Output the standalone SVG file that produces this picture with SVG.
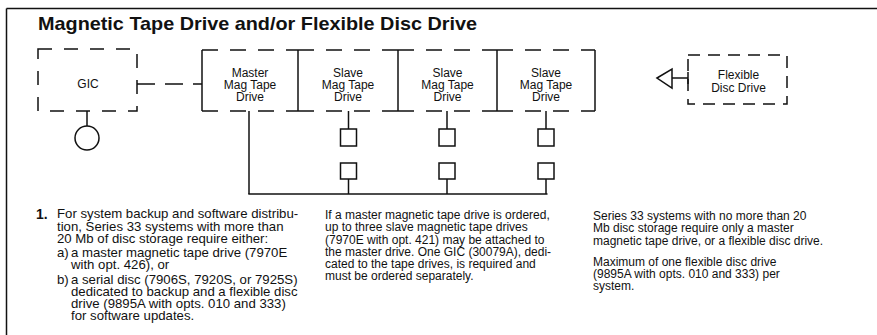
<svg xmlns="http://www.w3.org/2000/svg" width="877" height="335" viewBox="0 0 877 335">
<style>
.ln{stroke:#111;stroke-width:1.5;fill:none}
.dt{stroke:#111;stroke-width:1.5;fill:none;stroke-dasharray:16 12}
.df{stroke:#111;stroke-width:1.5;fill:none;stroke-dasharray:12 8}
.lbl{font-family:"Liberation Sans",Arial,sans-serif;font-size:12px;fill:#111;text-anchor:middle}
.nt{font-family:"Liberation Sans",Arial,sans-serif;font-size:12px;fill:#111}
.n1{font-size:13.2px}
.ttl{font-family:"Liberation Sans",Arial,sans-serif;font-size:19px;font-weight:bold;fill:#111}
</style>
<rect width="877" height="335" fill="#fff"/>
<g id="frame">
<line class="ln" x1="6.5" y1="8.5" x2="877" y2="8.5"/>
<line class="ln" x1="6.5" y1="8.5" x2="6.5" y2="335"/>
</g>
<text class="ttl" x="38" y="29.5" textLength="439" lengthAdjust="spacingAndGlyphs">Magnetic Tape Drive and/or Flexible Disc Drive</text>
<g id="gic">
<rect class="df" x="38" y="49" width="99" height="62" style="stroke-dasharray:14 12"/>
<text class="lbl" x="88" y="88">GIC</text>
</g>
<g id="gic-terminal">
<circle class="ln" cx="87" cy="138" r="12"/>
</g>
<g id="master">
<line class="dt" x1="202" y1="50" x2="298" y2="50"/>
<line class="dt" x1="202" y1="111" x2="298" y2="111"/>
<line class="ln" x1="202" y1="50" x2="202" y2="111"/>
<line class="ln" x1="298" y1="50" x2="298" y2="111"/>
<text class="lbl" x="250" y="76.5">Master</text>
<text class="lbl" x="250" y="88.5">Mag Tape</text>
<text class="lbl" x="250" y="100.5">Drive</text>
</g>
<g id="slave1">
<line class="dt" x1="298" y1="50" x2="398" y2="50"/>
<line class="dt" x1="298" y1="111" x2="398" y2="111"/>
<line class="ln" x1="398" y1="50" x2="398" y2="111"/>
<text class="lbl" x="348" y="76.5">Slave</text>
<text class="lbl" x="348" y="88.5">Mag Tape</text>
<text class="lbl" x="348" y="100.5">Drive</text>
</g>
<g id="slave2">
<line class="dt" x1="398" y1="50" x2="497" y2="50"/>
<line class="dt" x1="398" y1="111" x2="497" y2="111"/>
<line class="ln" x1="497" y1="50" x2="497" y2="111"/>
<text class="lbl" x="447.5" y="76.5">Slave</text>
<text class="lbl" x="447.5" y="88.5">Mag Tape</text>
<text class="lbl" x="447.5" y="100.5">Drive</text>
</g>
<g id="slave3">
<line class="dt" x1="497" y1="50" x2="595" y2="50"/>
<line class="dt" x1="497" y1="111" x2="595" y2="111"/>
<line class="ln" x1="595" y1="50" x2="595" y2="111"/>
<text class="lbl" x="546" y="76.5">Slave</text>
<text class="lbl" x="546" y="88.5">Mag Tape</text>
<text class="lbl" x="546" y="100.5">Drive</text>
</g>
<g id="terminators">
<rect id="t1a" class="ln" x="340.5" y="129" width="16" height="17"/>
<rect id="t2a" class="ln" x="439" y="129" width="16" height="17"/>
<rect id="t3a" class="ln" x="538" y="129" width="16" height="17"/>
<rect id="t1b" class="ln" x="340.5" y="163" width="16" height="16"/>
<rect id="t2b" class="ln" x="439" y="163" width="16" height="16"/>
<rect id="t3b" class="ln" x="538" y="163" width="16" height="16"/>
</g>
<g id="flexible-disc">
<rect class="df" x="688" y="55" width="99" height="49"/>
<line class="ln" x1="688" y1="72" x2="688" y2="84"/>
<text class="lbl" x="738.5" y="79">Flexible</text>
<text class="lbl" x="738.5" y="91.5">Disc Drive</text>
</g>
<g id="flex-symbol">
<polygon class="ln" points="657,78 672,69 672,88"/>
</g>
<g id="connectors">
<line class="ln" x1="137" y1="84" x2="202" y2="84" style="stroke-dasharray:18 10"/>
<line class="ln" x1="87" y1="111" x2="87" y2="126"/>
<line class="ln" x1="249" y1="111" x2="249" y2="194"/>
<line class="ln" x1="248.3" y1="194" x2="547.5" y2="194"/>
<line class="ln" x1="348.5" y1="111" x2="348.5" y2="129"/>
<line class="ln" x1="447" y1="111" x2="447" y2="129"/>
<line class="ln" x1="546" y1="111" x2="546" y2="129"/>
<line class="ln" x1="348.5" y1="179" x2="348.5" y2="194"/>
<line class="ln" x1="447" y1="179" x2="447" y2="194"/>
<line class="ln" x1="546" y1="179" x2="546" y2="194"/>
<line class="ln" x1="672" y1="78" x2="688" y2="78"/>
</g>
<g id="notes">
<text class="nt" x="36" y="218.5" style="font-weight:bold;font-size:14px">1.</text>
<text class="nt n1">
<tspan x="57" y="218">For system backup and software distribu-</tspan>
<tspan x="57" y="230.5">tion, Series 33 systems with more than</tspan>
<tspan x="57" y="243">20 Mb of disc storage require either:</tspan>
</text>
<text class="nt n1" x="57" y="257">a)</text>
<text class="nt n1">
<tspan x="71" y="257">a master magnetic tape drive (7970E</tspan>
<tspan x="71" y="269">with opt. 426), or</tspan>
</text>
<text class="nt n1" x="57" y="283.5">b)</text>
<text class="nt n1">
<tspan x="71" y="283.5">a serial disc (7906S, 7920S, or 7925S)</tspan>
<tspan x="71" y="295.5">dedicated to backup and a flexible disc</tspan>
<tspan x="71" y="307.5">drive (9895A with opts. 010 and 333)</tspan>
<tspan x="71" y="319.5">for software updates.</tspan>
</text>
<text class="nt">
<tspan x="325" y="219">If a master magnetic tape drive is ordered,</tspan>
<tspan x="325" y="231">up to three slave magnetic tape drives</tspan>
<tspan x="325" y="243.5">(7970E with opt. 421) may be attached to</tspan>
<tspan x="325" y="255.5">the master drive. One GIC (30079A), dedi-</tspan>
<tspan x="325" y="268">cated to the tape drives, is required and</tspan>
<tspan x="325" y="280">must be ordered separately.</tspan>
</text>
<text class="nt">
<tspan x="593" y="219.5">Series 33 systems with no more than 20</tspan>
<tspan x="593" y="232">Mb disc storage require only a master</tspan>
<tspan x="593" y="244.5">magnetic tape drive, or a flexible disc drive.</tspan>
<tspan x="593" y="265.5">Maximum of one flexible disc drive</tspan>
<tspan x="593" y="277.5">(9895A with opts. 010 and 333) per</tspan>
<tspan x="593" y="289.5">system.</tspan>
</text>
</g>
</svg>
